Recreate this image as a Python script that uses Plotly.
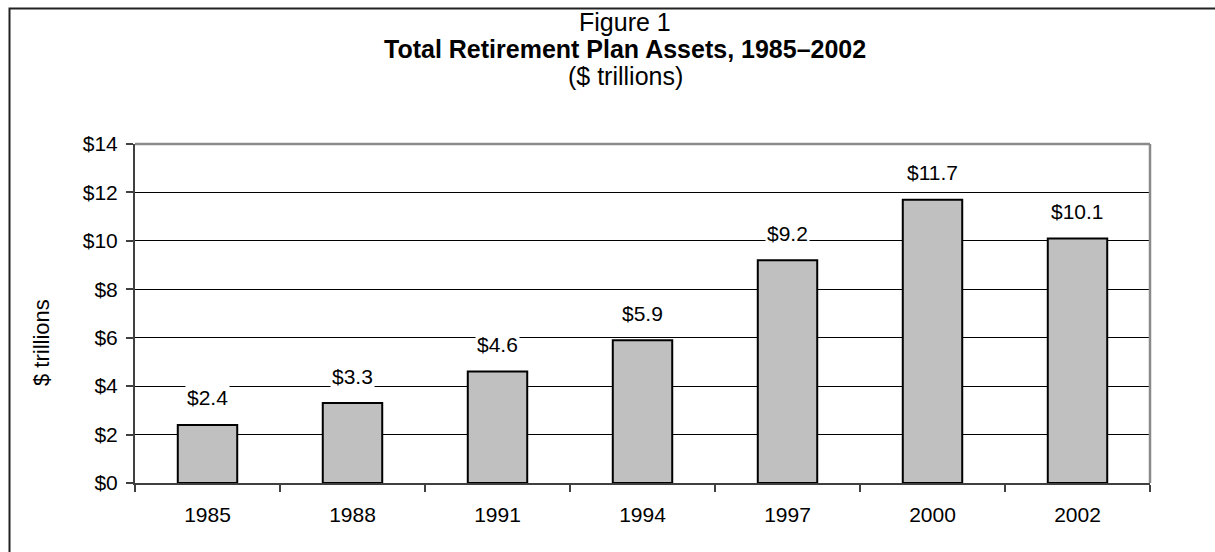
import plotly.graph_objects as go

# Total retirement plan assets by year ($ trillions)
years = ["1985", "1988", "1991", "1994", "1997", "2000", "2002"]
assets = [2.4, 3.3, 4.6, 5.9, 9.2, 11.7, 10.1]

y_ticks = [0, 2, 4, 6, 8, 10, 12, 14]

title_lines = ["Figure 1", "<b>Total Retirement Plan Assets, 1985\u20132002</b>", "($ trillions)"]
y_title = "$ trillions"

W, H = 1215, 552
ML, MR, MT, MB = 135, 65, 144, 69
PW, PH = W - ML - MR, H - MT - MB

FONT = "Liberation Sans, Arial, Helvetica, sans-serif"


def px_x(px):
    return (px - ML) / PW


def px_y(py):
    return (H - MB - py) / PH


fig = go.Figure()
fig.add_trace(go.Bar(
    x=years,
    y=assets,
    marker=dict(color="#c0c0c0", line=dict(color="#000000", width=2)),
    hoverinfo="x+y",
))

annotations = []
# value labels above bars, on a white box so gridlines don't cross them
for i, v in enumerate(assets):
    annotations.append(dict(
        x=i, y=v, xref="x", yref="y", text=f"${v:.1f}",
        showarrow=False, yanchor="middle", yshift=27,
        bgcolor="#ffffff", borderpad=1,
        font=dict(family=FONT, size=21, color="#000000"),
    ))

# three-line heading
for line, py in zip(title_lines, [22, 49, 76]):
    annotations.append(dict(
        x=px_x(625), y=px_y(py), xref="paper", yref="paper", text=line,
        showarrow=False, xanchor="center", yanchor="middle",
        font=dict(family=FONT, size=25, color="#000000"),
    ))

# vertical axis caption
annotations.append(dict(
    x=px_x(41), y=px_y(343), xref="paper", yref="paper", text=y_title,
    showarrow=False, textangle=-90, xanchor="center", yanchor="middle",
    font=dict(family=FONT, size=22, color="#000000"),
))

shapes = [
    # outer frame around the whole figure
    dict(type="rect", xref="paper", yref="paper",
         x0=px_x(9.5), x1=px_x(W + 40), y0=px_y(H + 40), y1=px_y(8.5),
         line=dict(color="#222222", width=2), fillcolor="rgba(0,0,0,0)", layer="above"),
    # grey plot-area border (top and right)
    dict(type="line", xref="paper", yref="paper", x0=0, x1=1, y0=1, y1=1,
         line=dict(color="#8a8a8a", width=2.5), layer="above"),
    dict(type="line", xref="paper", yref="paper", x0=1, x1=1, y0=0, y1=1,
         line=dict(color="#8a8a8a", width=2.5), layer="above"),
]

fig.update_layout(
    width=W, height=H,
    margin=dict(l=ML, r=MR, t=MT, b=MB),
    paper_bgcolor="#ffffff", plot_bgcolor="#ffffff",
    showlegend=False,
    bargap=0.59,
    font=dict(family=FONT, size=21, color="#000000"),
    annotations=annotations,
    shapes=shapes,
)

fig.update_xaxes(
    type="category", range=[-0.5, len(years) - 0.5],
    showline=True, linecolor="#404040", linewidth=2,
    ticks="outside", tickson="boundaries", ticklen=7, tickcolor="#404040", tickwidth=1.5,
    ticklabelstandoff=12,
    tickfont=dict(family=FONT, size=21, color="#000000"),
    showgrid=False, zeroline=False,
)

fig.update_yaxes(
    range=[0, 14], tickvals=y_ticks, ticktext=[f"${t}" for t in y_ticks],
    showline=True, linecolor="#404040", linewidth=2,
    ticks="outside", ticklen=7, tickcolor="#404040", tickwidth=1.5,
    ticklabelstandoff=4,
    tickfont=dict(family=FONT, size=21, color="#000000"),
    showgrid=True, gridcolor="#000000", gridwidth=1,
    zeroline=False,
)

fig.write_html("out.html")
